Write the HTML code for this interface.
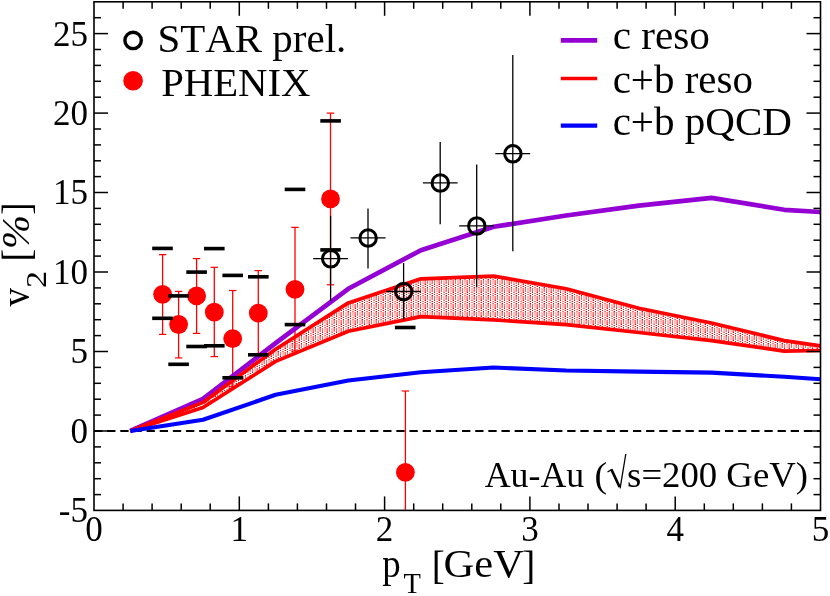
<!DOCTYPE html>
<html><head><meta charset="utf-8"><title>v2</title>
<style>
html,body{margin:0;padding:0;background:#fff;}
body{width:830px;height:596px;overflow:hidden;font-family:"Liberation Serif",serif;}
svg{display:block;will-change:transform;}
text{font-family:"Liberation Serif",serif;fill:#000;font-kerning:none;font-variant-ligatures:none;}
</style></head><body>
<svg width="830" height="596" viewBox="0 0 830 596">
<defs>
<pattern id="dots" x="0" y="0" width="14" height="8" patternUnits="userSpaceOnUse" shape-rendering="crispEdges">
<rect x="0" y="0" width="14" height="8" fill="#fff"/>
<rect x="0" y="0" width="1" height="4" fill="#ff6464"/>
<rect x="2" y="0" width="1" height="4" fill="#ffbebe"/>
<rect x="3" y="0" width="1" height="4" fill="#ffbebe"/>
<rect x="4" y="0" width="1" height="4" fill="#ffafaf"/>
<rect x="5" y="0" width="1" height="4" fill="#ff6e6e"/>
<rect x="7" y="0" width="1" height="4" fill="#ff6464"/>
<rect x="9" y="0" width="1" height="4" fill="#ffbebe"/>
<rect x="10" y="0" width="1" height="4" fill="#ffbebe"/>
<rect x="11" y="0" width="1" height="4" fill="#ffafaf"/>
<rect x="12" y="0" width="1" height="4" fill="#ff6e6e"/>
<rect x="0" y="4" width="1" height="1" fill="#ff0000"/>
<rect x="4" y="4" width="1" height="1" fill="#ff9696"/>
<rect x="5" y="4" width="1" height="1" fill="#ff0000"/>
<rect x="9" y="4" width="2" height="1" fill="#ff7878"/>
<rect x="2" y="5" width="2" height="1" fill="#ff7878"/>
<rect x="7" y="5" width="1" height="1" fill="#ff0000"/>
<rect x="11" y="5" width="1" height="1" fill="#ff9696"/>
<rect x="12" y="5" width="1" height="1" fill="#ff0000"/>
<rect x="0" y="6" width="1" height="1" fill="#ff0000"/>
<rect x="4" y="6" width="1" height="1" fill="#ff9696"/>
<rect x="5" y="6" width="1" height="1" fill="#ff0000"/>
<rect x="9" y="6" width="2" height="1" fill="#ff7878"/>
<rect x="2" y="7" width="2" height="1" fill="#ff7878"/>
<rect x="7" y="7" width="1" height="1" fill="#ff0000"/>
<rect x="11" y="7" width="1" height="1" fill="#ff9696"/>
<rect x="12" y="7" width="1" height="1" fill="#ff0000"/>
</pattern>
<clipPath id="clip"><rect x="94.0" y="1.8" width="726.5" height="508.6"/></clipPath>
</defs>
<rect width="830" height="596" fill="#fff"/>

<g clip-path="url(#clip)">
<polygon points="130.3,431.0 203.0,402.4 275.6,349.2 348.3,302.9 420.9,278.8 493.6,276.1 566.2,288.8 638.9,308.2 711.5,323.0 784.2,340.6 820.5,345.9 820.5,350.5 784.2,351.1 711.5,340.6 638.9,332.5 566.2,324.7 493.6,319.9 420.9,316.6 348.3,331.2 275.6,361.4 203.0,407.5 130.3,431.0" fill="url(#dots)" stroke="none"/>
</g>
<g clip-path="url(#clip)">
<line x1="162.6" y1="254.7" x2="162.6" y2="334.4" stroke="#ff0000" stroke-width="1.3"/>
<line x1="158.9" y1="254.7" x2="166.3" y2="254.7" stroke="#ff0000" stroke-width="1.2"/>
<line x1="158.9" y1="334.4" x2="166.3" y2="334.4" stroke="#ff0000" stroke-width="1.2"/>
<circle cx="162.6" cy="294.3" r="9.4" fill="#ff0000"/>
<line x1="178.6" y1="291.4" x2="178.6" y2="357.9" stroke="#ff0000" stroke-width="1.3"/>
<line x1="174.9" y1="291.4" x2="182.3" y2="291.4" stroke="#ff0000" stroke-width="1.2"/>
<line x1="174.9" y1="357.9" x2="182.3" y2="357.9" stroke="#ff0000" stroke-width="1.2"/>
<circle cx="178.6" cy="324.5" r="9.4" fill="#ff0000"/>
<line x1="196.6" y1="258.6" x2="196.6" y2="333.4" stroke="#ff0000" stroke-width="1.3"/>
<line x1="192.9" y1="258.6" x2="200.3" y2="258.6" stroke="#ff0000" stroke-width="1.2"/>
<line x1="192.9" y1="333.4" x2="200.3" y2="333.4" stroke="#ff0000" stroke-width="1.2"/>
<circle cx="196.6" cy="295.9" r="9.4" fill="#ff0000"/>
<line x1="214.3" y1="267.3" x2="214.3" y2="356.6" stroke="#ff0000" stroke-width="1.3"/>
<line x1="210.6" y1="267.3" x2="218.0" y2="267.3" stroke="#ff0000" stroke-width="1.2"/>
<line x1="210.6" y1="356.6" x2="218.0" y2="356.6" stroke="#ff0000" stroke-width="1.2"/>
<circle cx="214.3" cy="312.2" r="9.4" fill="#ff0000"/>
<line x1="232.7" y1="290.5" x2="232.7" y2="386.7" stroke="#ff0000" stroke-width="1.3"/>
<line x1="229.0" y1="290.5" x2="236.4" y2="290.5" stroke="#ff0000" stroke-width="1.2"/>
<line x1="229.0" y1="386.7" x2="236.4" y2="386.7" stroke="#ff0000" stroke-width="1.2"/>
<circle cx="232.7" cy="338.6" r="9.4" fill="#ff0000"/>
<line x1="258.3" y1="270.6" x2="258.3" y2="355.6" stroke="#ff0000" stroke-width="1.3"/>
<line x1="254.6" y1="270.6" x2="262.0" y2="270.6" stroke="#ff0000" stroke-width="1.2"/>
<line x1="254.6" y1="355.6" x2="262.0" y2="355.6" stroke="#ff0000" stroke-width="1.2"/>
<circle cx="258.3" cy="313.2" r="9.4" fill="#ff0000"/>
<line x1="295.0" y1="227.3" x2="295.0" y2="351.0" stroke="#ff0000" stroke-width="1.3"/>
<line x1="291.3" y1="227.3" x2="298.7" y2="227.3" stroke="#ff0000" stroke-width="1.2"/>
<line x1="291.3" y1="351.0" x2="298.7" y2="351.0" stroke="#ff0000" stroke-width="1.2"/>
<circle cx="295.0" cy="289.3" r="9.4" fill="#ff0000"/>
<line x1="330.5" y1="113.2" x2="330.5" y2="284.8" stroke="#ff0000" stroke-width="1.3"/>
<line x1="326.8" y1="113.2" x2="334.2" y2="113.2" stroke="#ff0000" stroke-width="1.2"/>
<line x1="326.8" y1="284.8" x2="334.2" y2="284.8" stroke="#ff0000" stroke-width="1.2"/>
<circle cx="330.5" cy="198.9" r="9.4" fill="#ff0000"/>
<line x1="405.4" y1="391.0" x2="405.4" y2="560.0" stroke="#ff0000" stroke-width="1.3"/>
<line x1="401.7" y1="391.0" x2="409.1" y2="391.0" stroke="#ff0000" stroke-width="1.2"/>
<line x1="401.7" y1="560.0" x2="409.1" y2="560.0" stroke="#ff0000" stroke-width="1.2"/>
<circle cx="405.4" cy="472.3" r="9.4" fill="#ff0000"/>
</g>
<line x1="94.0" y1="431.0" x2="820.5" y2="431.0" stroke="#000" stroke-width="1.9" stroke-dasharray="8.3,4.845"/>
<g clip-path="url(#clip)" fill="none" stroke-linejoin="round">
<polyline points="130.3,431.0 203.0,398.9 275.6,343.2 348.3,288.8 420.9,250.2 493.6,226.8 566.2,215.5 638.9,205.7 711.5,197.9 784.2,209.8 820.5,212.0" stroke="#9400d3" stroke-width="4.7"/>
<polyline points="130.3,431.0 203.0,402.4 275.6,349.2 348.3,302.9 420.9,278.8 493.6,276.1 566.2,288.8 638.9,308.2 711.5,323.0 784.2,340.6 820.5,345.9" stroke="#ff0000" stroke-width="3.7"/>
<polyline points="130.3,431.0 203.0,407.5 275.6,361.4 348.3,331.2 420.9,316.6 493.6,319.9 566.2,324.7 638.9,332.5 711.5,340.6 784.2,351.1 820.5,350.5" stroke="#ff0000" stroke-width="3.7"/>
<polyline points="130.3,431.0 203.0,419.8 275.6,394.8 348.3,380.5 420.9,372.2 493.6,367.5 566.2,370.5 638.9,371.6 711.5,372.6 784.2,376.8 820.5,379.2" stroke="#0000ff" stroke-width="4.1"/>
</g>
<rect x="152.2" y="246.6" width="20.6" height="3.6" fill="#000"/>
<rect x="152.2" y="316.5" width="20.6" height="3.6" fill="#000"/>
<rect x="168.3" y="294.1" width="20.6" height="3.6" fill="#000"/>
<rect x="168.3" y="362.5" width="20.6" height="3.6" fill="#000"/>
<rect x="186.3" y="270.3" width="20.6" height="3.6" fill="#000"/>
<rect x="186.3" y="344.7" width="20.6" height="3.6" fill="#000"/>
<rect x="204.0" y="246.8" width="20.6" height="3.6" fill="#000"/>
<rect x="204.0" y="344.0" width="20.6" height="3.6" fill="#000"/>
<rect x="222.4" y="273.6" width="20.6" height="3.6" fill="#000"/>
<rect x="222.4" y="376.0" width="20.6" height="3.6" fill="#000"/>
<rect x="248.0" y="275.0" width="20.6" height="3.6" fill="#000"/>
<rect x="248.0" y="353.0" width="20.6" height="3.6" fill="#000"/>
<rect x="284.7" y="187.6" width="20.6" height="3.6" fill="#000"/>
<rect x="284.7" y="322.8" width="20.6" height="3.6" fill="#000"/>
<rect x="320.3" y="119.1" width="20.6" height="3.6" fill="#000"/>
<rect x="320.3" y="248.1" width="20.6" height="3.6" fill="#000"/>
<rect x="394.9" y="325.7" width="20.6" height="3.6" fill="#000"/>
<line x1="330.6" y1="215.9" x2="330.6" y2="300.9" stroke="#000" stroke-width="1.3"/>
<line x1="313.2" y1="258.6" x2="348.0" y2="258.6" stroke="#000" stroke-width="1.3"/>
<circle cx="330.7" cy="258.8" r="8.25" fill="none" stroke="#000" stroke-width="3"/>
<line x1="368.0" y1="208.4" x2="368.0" y2="268.4" stroke="#000" stroke-width="1.3"/>
<line x1="350.5" y1="237.9" x2="385.6" y2="237.9" stroke="#000" stroke-width="1.3"/>
<circle cx="368.1" cy="238.1" r="8.25" fill="none" stroke="#000" stroke-width="3"/>
<line x1="403.6" y1="263.0" x2="403.6" y2="319.7" stroke="#000" stroke-width="1.3"/>
<line x1="386.2" y1="291.5" x2="420.9" y2="291.5" stroke="#000" stroke-width="1.3"/>
<circle cx="403.7" cy="291.6" r="8.25" fill="none" stroke="#000" stroke-width="3"/>
<line x1="440.2" y1="142.0" x2="440.2" y2="224.2" stroke="#000" stroke-width="1.3"/>
<line x1="422.9" y1="182.9" x2="457.6" y2="182.9" stroke="#000" stroke-width="1.3"/>
<circle cx="440.3" cy="183.1" r="8.25" fill="none" stroke="#000" stroke-width="3"/>
<line x1="476.7" y1="164.4" x2="476.7" y2="287.4" stroke="#000" stroke-width="1.3"/>
<line x1="459.2" y1="225.8" x2="493.9" y2="225.8" stroke="#000" stroke-width="1.3"/>
<circle cx="476.8" cy="226.0" r="8.25" fill="none" stroke="#000" stroke-width="3"/>
<line x1="512.8" y1="54.9" x2="512.8" y2="251.3" stroke="#000" stroke-width="1.3"/>
<line x1="495.3" y1="153.6" x2="530.2" y2="153.6" stroke="#000" stroke-width="1.3"/>
<circle cx="512.9" cy="153.8" r="8.25" fill="none" stroke="#000" stroke-width="3"/>
<g stroke="#000" fill="none">
<rect x="94.0" y="1.8" width="726.5" height="508.6" stroke-width="1.6"/>
<line x1="123.1" y1="510.4" x2="123.1" y2="503.4" stroke-width="1.5"/>
<line x1="123.1" y1="1.8" x2="123.1" y2="8.8" stroke-width="1.5"/>
<line x1="152.1" y1="510.4" x2="152.1" y2="503.4" stroke-width="1.5"/>
<line x1="152.1" y1="1.8" x2="152.1" y2="8.8" stroke-width="1.5"/>
<line x1="181.2" y1="510.4" x2="181.2" y2="503.4" stroke-width="1.5"/>
<line x1="181.2" y1="1.8" x2="181.2" y2="8.8" stroke-width="1.5"/>
<line x1="210.2" y1="510.4" x2="210.2" y2="503.4" stroke-width="1.5"/>
<line x1="210.2" y1="1.8" x2="210.2" y2="8.8" stroke-width="1.5"/>
<line x1="239.3" y1="510.4" x2="239.3" y2="496.4" stroke-width="1.5"/>
<line x1="239.3" y1="1.8" x2="239.3" y2="15.8" stroke-width="1.5"/>
<line x1="268.4" y1="510.4" x2="268.4" y2="503.4" stroke-width="1.5"/>
<line x1="268.4" y1="1.8" x2="268.4" y2="8.8" stroke-width="1.5"/>
<line x1="297.4" y1="510.4" x2="297.4" y2="503.4" stroke-width="1.5"/>
<line x1="297.4" y1="1.8" x2="297.4" y2="8.8" stroke-width="1.5"/>
<line x1="326.5" y1="510.4" x2="326.5" y2="503.4" stroke-width="1.5"/>
<line x1="326.5" y1="1.8" x2="326.5" y2="8.8" stroke-width="1.5"/>
<line x1="355.5" y1="510.4" x2="355.5" y2="503.4" stroke-width="1.5"/>
<line x1="355.5" y1="1.8" x2="355.5" y2="8.8" stroke-width="1.5"/>
<line x1="384.6" y1="510.4" x2="384.6" y2="496.4" stroke-width="1.5"/>
<line x1="384.6" y1="1.8" x2="384.6" y2="15.8" stroke-width="1.5"/>
<line x1="413.7" y1="510.4" x2="413.7" y2="503.4" stroke-width="1.5"/>
<line x1="413.7" y1="1.8" x2="413.7" y2="8.8" stroke-width="1.5"/>
<line x1="442.7" y1="510.4" x2="442.7" y2="503.4" stroke-width="1.5"/>
<line x1="442.7" y1="1.8" x2="442.7" y2="8.8" stroke-width="1.5"/>
<line x1="471.8" y1="510.4" x2="471.8" y2="503.4" stroke-width="1.5"/>
<line x1="471.8" y1="1.8" x2="471.8" y2="8.8" stroke-width="1.5"/>
<line x1="500.8" y1="510.4" x2="500.8" y2="503.4" stroke-width="1.5"/>
<line x1="500.8" y1="1.8" x2="500.8" y2="8.8" stroke-width="1.5"/>
<line x1="529.9" y1="510.4" x2="529.9" y2="496.4" stroke-width="1.5"/>
<line x1="529.9" y1="1.8" x2="529.9" y2="15.8" stroke-width="1.5"/>
<line x1="559.0" y1="510.4" x2="559.0" y2="503.4" stroke-width="1.5"/>
<line x1="559.0" y1="1.8" x2="559.0" y2="8.8" stroke-width="1.5"/>
<line x1="588.0" y1="510.4" x2="588.0" y2="503.4" stroke-width="1.5"/>
<line x1="588.0" y1="1.8" x2="588.0" y2="8.8" stroke-width="1.5"/>
<line x1="617.1" y1="510.4" x2="617.1" y2="503.4" stroke-width="1.5"/>
<line x1="617.1" y1="1.8" x2="617.1" y2="8.8" stroke-width="1.5"/>
<line x1="646.1" y1="510.4" x2="646.1" y2="503.4" stroke-width="1.5"/>
<line x1="646.1" y1="1.8" x2="646.1" y2="8.8" stroke-width="1.5"/>
<line x1="675.2" y1="510.4" x2="675.2" y2="496.4" stroke-width="1.5"/>
<line x1="675.2" y1="1.8" x2="675.2" y2="15.8" stroke-width="1.5"/>
<line x1="704.3" y1="510.4" x2="704.3" y2="503.4" stroke-width="1.5"/>
<line x1="704.3" y1="1.8" x2="704.3" y2="8.8" stroke-width="1.5"/>
<line x1="733.3" y1="510.4" x2="733.3" y2="503.4" stroke-width="1.5"/>
<line x1="733.3" y1="1.8" x2="733.3" y2="8.8" stroke-width="1.5"/>
<line x1="762.4" y1="510.4" x2="762.4" y2="503.4" stroke-width="1.5"/>
<line x1="762.4" y1="1.8" x2="762.4" y2="8.8" stroke-width="1.5"/>
<line x1="791.4" y1="510.4" x2="791.4" y2="503.4" stroke-width="1.5"/>
<line x1="791.4" y1="1.8" x2="791.4" y2="8.8" stroke-width="1.5"/>
<line x1="94.0" y1="494.6" x2="101.0" y2="494.6" stroke-width="1.5"/>
<line x1="820.5" y1="494.6" x2="813.5" y2="494.6" stroke-width="1.5"/>
<line x1="94.0" y1="478.7" x2="101.0" y2="478.7" stroke-width="1.5"/>
<line x1="820.5" y1="478.7" x2="813.5" y2="478.7" stroke-width="1.5"/>
<line x1="94.0" y1="462.8" x2="101.0" y2="462.8" stroke-width="1.5"/>
<line x1="820.5" y1="462.8" x2="813.5" y2="462.8" stroke-width="1.5"/>
<line x1="94.0" y1="446.9" x2="101.0" y2="446.9" stroke-width="1.5"/>
<line x1="820.5" y1="446.9" x2="813.5" y2="446.9" stroke-width="1.5"/>
<line x1="94.0" y1="431.0" x2="108.0" y2="431.0" stroke-width="1.5"/>
<line x1="820.5" y1="431.0" x2="806.5" y2="431.0" stroke-width="1.5"/>
<line x1="94.0" y1="415.1" x2="101.0" y2="415.1" stroke-width="1.5"/>
<line x1="820.5" y1="415.1" x2="813.5" y2="415.1" stroke-width="1.5"/>
<line x1="94.0" y1="399.2" x2="101.0" y2="399.2" stroke-width="1.5"/>
<line x1="820.5" y1="399.2" x2="813.5" y2="399.2" stroke-width="1.5"/>
<line x1="94.0" y1="383.3" x2="101.0" y2="383.3" stroke-width="1.5"/>
<line x1="820.5" y1="383.3" x2="813.5" y2="383.3" stroke-width="1.5"/>
<line x1="94.0" y1="367.4" x2="101.0" y2="367.4" stroke-width="1.5"/>
<line x1="820.5" y1="367.4" x2="813.5" y2="367.4" stroke-width="1.5"/>
<line x1="94.0" y1="351.5" x2="108.0" y2="351.5" stroke-width="1.5"/>
<line x1="820.5" y1="351.5" x2="806.5" y2="351.5" stroke-width="1.5"/>
<line x1="94.0" y1="335.6" x2="101.0" y2="335.6" stroke-width="1.5"/>
<line x1="820.5" y1="335.6" x2="813.5" y2="335.6" stroke-width="1.5"/>
<line x1="94.0" y1="319.7" x2="101.0" y2="319.7" stroke-width="1.5"/>
<line x1="820.5" y1="319.7" x2="813.5" y2="319.7" stroke-width="1.5"/>
<line x1="94.0" y1="303.8" x2="101.0" y2="303.8" stroke-width="1.5"/>
<line x1="820.5" y1="303.8" x2="813.5" y2="303.8" stroke-width="1.5"/>
<line x1="94.0" y1="287.9" x2="101.0" y2="287.9" stroke-width="1.5"/>
<line x1="820.5" y1="287.9" x2="813.5" y2="287.9" stroke-width="1.5"/>
<line x1="94.0" y1="272.0" x2="108.0" y2="272.0" stroke-width="1.5"/>
<line x1="820.5" y1="272.0" x2="806.5" y2="272.0" stroke-width="1.5"/>
<line x1="94.0" y1="256.1" x2="101.0" y2="256.1" stroke-width="1.5"/>
<line x1="820.5" y1="256.1" x2="813.5" y2="256.1" stroke-width="1.5"/>
<line x1="94.0" y1="240.2" x2="101.0" y2="240.2" stroke-width="1.5"/>
<line x1="820.5" y1="240.2" x2="813.5" y2="240.2" stroke-width="1.5"/>
<line x1="94.0" y1="224.3" x2="101.0" y2="224.3" stroke-width="1.5"/>
<line x1="820.5" y1="224.3" x2="813.5" y2="224.3" stroke-width="1.5"/>
<line x1="94.0" y1="208.4" x2="101.0" y2="208.4" stroke-width="1.5"/>
<line x1="820.5" y1="208.4" x2="813.5" y2="208.4" stroke-width="1.5"/>
<line x1="94.0" y1="192.5" x2="108.0" y2="192.5" stroke-width="1.5"/>
<line x1="820.5" y1="192.5" x2="806.5" y2="192.5" stroke-width="1.5"/>
<line x1="94.0" y1="176.6" x2="101.0" y2="176.6" stroke-width="1.5"/>
<line x1="820.5" y1="176.6" x2="813.5" y2="176.6" stroke-width="1.5"/>
<line x1="94.0" y1="160.8" x2="101.0" y2="160.8" stroke-width="1.5"/>
<line x1="820.5" y1="160.8" x2="813.5" y2="160.8" stroke-width="1.5"/>
<line x1="94.0" y1="144.9" x2="101.0" y2="144.9" stroke-width="1.5"/>
<line x1="820.5" y1="144.9" x2="813.5" y2="144.9" stroke-width="1.5"/>
<line x1="94.0" y1="129.0" x2="101.0" y2="129.0" stroke-width="1.5"/>
<line x1="820.5" y1="129.0" x2="813.5" y2="129.0" stroke-width="1.5"/>
<line x1="94.0" y1="113.1" x2="108.0" y2="113.1" stroke-width="1.5"/>
<line x1="820.5" y1="113.1" x2="806.5" y2="113.1" stroke-width="1.5"/>
<line x1="94.0" y1="97.2" x2="101.0" y2="97.2" stroke-width="1.5"/>
<line x1="820.5" y1="97.2" x2="813.5" y2="97.2" stroke-width="1.5"/>
<line x1="94.0" y1="81.3" x2="101.0" y2="81.3" stroke-width="1.5"/>
<line x1="820.5" y1="81.3" x2="813.5" y2="81.3" stroke-width="1.5"/>
<line x1="94.0" y1="65.4" x2="101.0" y2="65.4" stroke-width="1.5"/>
<line x1="820.5" y1="65.4" x2="813.5" y2="65.4" stroke-width="1.5"/>
<line x1="94.0" y1="49.5" x2="101.0" y2="49.5" stroke-width="1.5"/>
<line x1="820.5" y1="49.5" x2="813.5" y2="49.5" stroke-width="1.5"/>
<line x1="94.0" y1="33.6" x2="108.0" y2="33.6" stroke-width="1.5"/>
<line x1="820.5" y1="33.6" x2="806.5" y2="33.6" stroke-width="1.5"/>
<line x1="94.0" y1="17.7" x2="101.0" y2="17.7" stroke-width="1.5"/>
<line x1="820.5" y1="17.7" x2="813.5" y2="17.7" stroke-width="1.5"/>
</g>
<text x="88.0" y="522.4" font-size="35" text-anchor="end">-5</text>
<text x="88.0" y="442.9" font-size="35" text-anchor="end">0</text>
<text x="88.0" y="363.4" font-size="35" text-anchor="end">5</text>
<text x="88.0" y="283.9" font-size="35" text-anchor="end">10</text>
<text x="88.0" y="204.4" font-size="35" text-anchor="end">15</text>
<text x="88.0" y="125.0" font-size="35" text-anchor="end">20</text>
<text x="88.0" y="45.5" font-size="35" text-anchor="end">25</text>
<text x="94.0" y="541.2" font-size="35" text-anchor="middle">0</text>
<text x="239.3" y="541.2" font-size="35" text-anchor="middle">1</text>
<text x="384.6" y="541.2" font-size="35" text-anchor="middle">2</text>
<text x="529.9" y="541.2" font-size="35" text-anchor="middle">3</text>
<text x="675.2" y="541.2" font-size="35" text-anchor="middle">4</text>
<text x="820.5" y="541.2" font-size="35" text-anchor="middle">5</text>
<text transform="translate(382.31,577.30) scale(0.9217,1)" font-size="40.0" >p</text>
<text transform="translate(403.39,593.30) scale(0.9649,1)" font-size="29.5" >T</text>
<text transform="translate(431.70,578.80) scale(0.9768,1)" font-size="40.0" >[</text>
<text transform="translate(443.56,577.30) scale(1.0635,1)" font-size="40.0" >GeV</text>
<text transform="translate(522.19,578.80) scale(0.9768,1)" font-size="40.0" >]</text>
<text transform="translate(29.00,306.60) rotate(-90) scale(0.9300,1)" font-size="40.0">v</text>
<text transform="translate(46.40,287.90) rotate(-90) scale(1.1585,1)" font-size="29.5">2</text>
<text transform="translate(30.40,261.50) rotate(-90) scale(0.9432,1)" font-size="40.0">[</text>
<text transform="translate(29.00,248.93) rotate(-90) scale(1.0191,1)" font-size="40.0" font-style="italic">%</text>
<text transform="translate(30.40,214.63) rotate(-90) scale(0.9207,1)" font-size="40.0">]</text>
<circle cx="133.1" cy="40.4" r="8.2" fill="none" stroke="#000" stroke-width="3.4"/>
<circle cx="133.1" cy="80.8" r="9.8" fill="#ff0000"/>
<text transform="translate(157.46,51.60) scale(1.0239,1)" font-size="40.0" >STAR prel.</text>
<text transform="translate(161.13,95.50) scale(1.0188,1)" font-size="40.0" >PHENIX</text>
<line x1="560.8" y1="40.4" x2="597.2" y2="40.4" stroke="#9400d3" stroke-width="4.6"/>
<line x1="560.8" y1="78.5" x2="597.2" y2="78.5" stroke="#ff0000" stroke-width="3.4"/>
<line x1="560.8" y1="125.7" x2="597.2" y2="125.7" stroke="#0000ff" stroke-width="4.2"/>
<text transform="translate(612.63,49.40) scale(1.0301,1)" font-size="40.0" >c reso</text>
<text transform="translate(612.64,93.00) scale(1.0246,1)" font-size="40.0" >c+b reso</text>
<text transform="translate(612.64,134.50) scale(1.0266,1)" font-size="40.0" >c+b pQCD</text>
<text transform="translate(484.65,486.90) scale(1.0155,1)" font-size="35.3" >Au-Au</text>
<text transform="translate(594.54,486.90) scale(1.0699,1)" font-size="35.3" >(</text>
<text transform="translate(627.09,486.90) scale(1.0408,1)" font-size="35.3" >s=200 GeV)</text>
<path d="M607.5,472.0 L611.6,469.6" stroke="#000" stroke-width="1.3" fill="none"/>
<path d="M611.3,469.3 L619.6,487.0" stroke="#000" stroke-width="2.7" fill="none"/>
<path d="M620.1,488.3 L625.8,454.0" stroke="#000" stroke-width="1.3" fill="none"/>
</svg></body></html>
